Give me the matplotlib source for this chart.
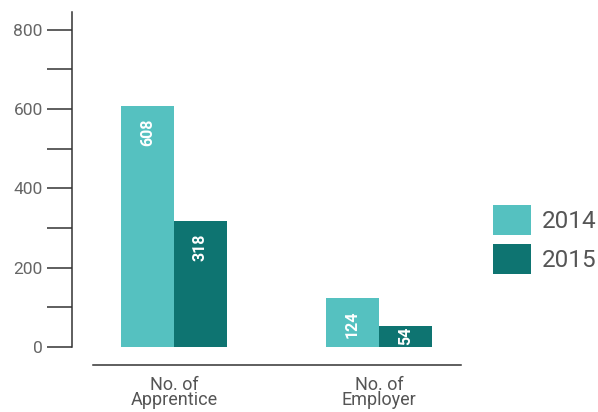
import numpy as np
import matplotlib.pyplot as plt

plt.rcParams['font.family'] = ['Roboto', 'DejaVu Sans']

categories = ['No. of\nApprentice', 'No. of\nEmployer']
years = ['2014', '2015']
values_2014 = [608, 124]
values_2015 = [318, 54]
colors = ['#55c1c0', '#0e7471']

W, H = 598, 412
fig = plt.figure(figsize=(W / 100, H / 100), dpi=100)
ax = fig.add_axes([72 / W, 1 - 347 / H, (470 - 72) / W, (347 - 12) / H])

x = np.arange(len(categories))
bw = 0.258
b1 = ax.bar(x - bw / 2, values_2014, bw, color=colors[0], label=years[0])
b2 = ax.bar(x + bw / 2, values_2015, bw, color=colors[1], label=years[1])

ax.set_xlim(-0.4976, 1.444)
ax.set_ylim(0, 845)

# value labels: near the top of tall bars, centred in short ones
px_per_unit = (347 - 12) / 845
for bars in (b1, b2):
    for rect in bars:
        v = rect.get_height()
        cx = rect.get_x() + rect.get_width() / 2
        if v * px_per_unit > 45:
            ax.annotate(f'{v:g}', (cx, v), xytext=(0, -9),
                        textcoords='offset points', ha='center', va='top',
                        rotation=90, color='white', fontsize=11.5,
                        fontweight='bold')
        else:
            ax.text(cx, v / 2, f'{v:g}', ha='center', va='center',
                    rotation=90, color='white', fontsize=11.5,
                    fontweight='bold')

ax.set_yticks([0, 200, 400, 600, 800])
ax.set_yticks([100, 300, 500, 700], minor=True)
ax.tick_params(axis='y', which='both', direction='out', length=18, width=1.1,
               color='#333333', labelcolor='#666666', labelsize=12.5, pad=3)

# category names under the detached baseline
ax.set_xticks([])
for xi, name in zip(x, categories):
    ax.annotate(name, (xi, 0), xycoords=('data', 'axes fraction'),
                xytext=(0, -21), textcoords='offset points',
                ha='center', va='top', fontsize=13, color='#555555',
                linespacing=0.8, annotation_clip=False)

for s in ('top', 'right'):
    ax.spines[s].set_visible(False)
ax.spines['left'].set_color('#333333')
ax.spines['left'].set_linewidth(1.1)
ax.spines['bottom'].set_position(('outward', 13))
ax.spines['bottom'].set_bounds(-0.395, 1.4)
ax.spines['bottom'].set_color('#333333')
ax.spines['bottom'].set_linewidth(1.1)

leg = fig.legend(loc='upper left', bbox_to_anchor=(493 / W, 1 - 205 / H),
                 frameon=False, fontsize=17.5, handlelength=1.56,
                 handleheight=1.5, labelspacing=0.4, handletextpad=0.45,
                 borderpad=0, borderaxespad=0)
for t in leg.get_texts():
    t.set_color('#555555')

fig.savefig('out.png', dpi=100)
